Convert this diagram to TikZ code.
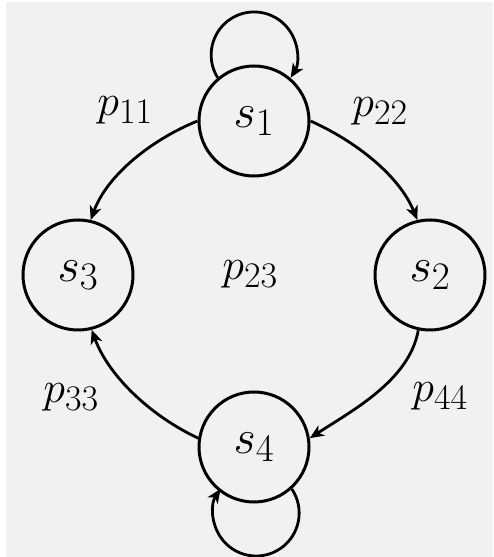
\RequirePackage{fix-cm}
\documentclass[tikz,border=0pt]{standalone}
\usetikzlibrary{arrows.meta}
\DeclareMathSizes{48}{48}{39}{30}
\DeclareMathSizes{44}{44}{36}{28}
\definecolor{bg}{HTML}{F1F1F1}
\begin{document}
\begin{tikzpicture}[x=1pt,y=1pt,
  state/.style={circle,draw,line width=3pt,minimum size=110pt,inner sep=0pt,font=\fontsize{48}{56}\selectfont},
  lbl/.style={inner sep=0pt,font=\fontsize{44}{52}\selectfont},
  arr/.style={line width=2.8pt,-{Stealth[length=14pt,width=12pt,inset=4pt]}}]
\fill[bg] (0,0) rectangle (493,557);
\fill[white] (0,0) rectangle (6,557);
\fill[white] (0,555) rectangle (493,557);
\useasboundingbox (0,0) rectangle (493,557);
\node[state] (s1) at (254,436) {$s_1$};
\node[state] (s3) at (78,282) {$s_3$};
\node[state] (s2) at (430,282) {$s_2$};
\node[state] (s4) at (254,110) {$s_4$};
\node[lbl] (p11) at (125,447) {$p_{11}$};
\node[lbl] (p22) at (380,446) {$p_{22}$};
\node[lbl] (p23) at (250,283) {$p_{23}$};
\node[lbl] (p33) at (71,160) {$p_{33}$};
\node[lbl] (p44) at (440,161) {$p_{44}$};
\draw[arr] (s1.180) to[out=202,in=70,looseness=0.85] (s3.77);
\draw[arr] (s1.0) to[out=-24,in=112,looseness=0.85] (s2.103);
\draw[arr] (s2.258) to[out=260,in=33,looseness=0.85] (s4.9);
\draw[arr] (s4.171) to[out=155,in=-70,looseness=0.85] (s3.-76);
\draw[arr] (s1.130) arc[start angle=212,end angle=-32,radius=43];
\draw[arr] (s4.-48) arc[start angle=34,end angle=-214,radius=43];
\end{tikzpicture}
\end{document}
